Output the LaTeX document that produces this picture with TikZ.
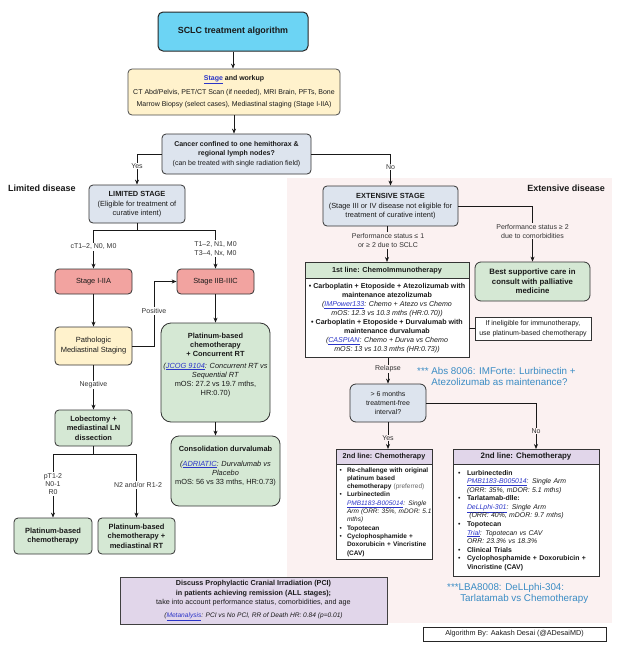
\documentclass[tikz,border=0pt]{standalone}
\usepackage{fontspec}
\setmainfont{Liberation Sans}
\usetikzlibrary{arrows.meta}
\definecolor{cyanf}{HTML}{6CD4F4}
\definecolor{yelf}{HTML}{FFF2CC}
\definecolor{gbf}{HTML}{DDE4EE}
\definecolor{redf}{HTML}{F2A3A0}
\definecolor{grnf}{HTML}{D5E8D4}
\definecolor{purf}{HTML}{E1D6EA}
\definecolor{pinkbg}{HTML}{FBF1F1}
\definecolor{bordc}{HTML}{333333}
\definecolor{linkc}{HTML}{2B35C8}
\definecolor{notec}{HTML}{3A8CC4}
\definecolor{txtc}{HTML}{1A1A1A}
\definecolor{lblc}{HTML}{333333}
\newcommand\myfs[2]{\fontsize{#1}{#2}\selectfont}
\newcommand\lnk[1]{\textcolor{linkc}{\underline{#1}}}
\newcommand\blL{\makebox[10.5pt][l]{\hspace{3pt}\textbullet}}
\newcommand\indL{\hspace*{10.5pt}}
\newcommand\blR{\makebox[13.5pt][l]{\hspace{4.5pt}\textbullet}}
\newcommand\indR{\hspace*{13.5pt}}
\begin{document}
\begin{tikzpicture}[x=1pt,y=-1pt,
  box/.style={draw=bordc, line width=0.8pt, rounded corners=4pt, align=center, inner sep=1pt, text=txtc},
  sq/.style={draw=bordc, line width=0.8pt, align=center, inner sep=1pt, text=txtc},
  arr/.style={-{Stealth[length=5pt,width=4pt]}, line width=0.7pt, draw=black!90},
  ln/.style={line width=0.7pt, draw=black!90},
  lbl/.style={align=center, inner sep=1pt, text=lblc, font=\myfs{7}{9}},
  side/.style={font=\myfs{9}{11}\bfseries, text=txtc, inner sep=0pt},
  note/.style={align=left, text=notec, font=\myfs{9.8}{11}, inner sep=0pt},
]
\useasboundingbox (0,0) rectangle (622,648);
\fill[white] (0,0) rectangle (622,648);
\fill[pinkbg] (287,178) rectangle (612,623);

% ---------- top ----------
\node[box, fill=cyanf, draw=black!85, line width=1pt, rounded corners=5pt, minimum width=150pt, minimum height=39pt, font=\myfs{8.9}{10}\bfseries] (title) at (233,31.5) {SCLC treatment algorithm};
\node[box, fill=yelf, draw=black!70, minimum width=212pt, minimum height=46pt, font=\myfs{7}{12}] (stage) at (234,92) {\textbf{\lnk{Stage} and workup}\\[2pt]CT Abd/Pelvis, PET/CT Scan (if needed), MRI Brain, PFTs, Bone\\Marrow Biopsy (select cases), Mediastinal staging (Stage I-IIA)};
\node[box, fill=gbf, minimum width=149pt, minimum height=40pt, font=\myfs{7}{9}] (cancer) at (236.5,154) {\textbf{Cancer confined to one hemithorax \&}\\\textbf{regional lymph nodes?}\\[1.5pt](can be treated with single radiation field)};

\node[side, anchor=west] (limlab) at (8,188) {Limited disease};
\node[side, anchor=east] (extlab) at (605,188) {Extensive disease};

\node[box, fill=gbf, minimum width=96pt, minimum height=38pt, font=\myfs{7.4}{9}] (limited) at (137,204) {\textbf{LIMITED STAGE}\\[1pt](Eligible for treatment of\\curative intent)};
\node[box, fill=gbf, minimum width=135pt, minimum height=40pt, font=\myfs{7.4}{9}] (extensive) at (390.5,206) {\textbf{EXTENSIVE STAGE}\\[1pt](Stage III or IV disease not eligible for\\treatment of curative intent)};

% ---------- limited branch ----------
\node[box, fill=redf, minimum width=77pt, minimum height=25pt, font=\myfs{7.4}{9}] (s1) at (93.5,281.5) {Stage I-IIA};
\node[box, fill=redf, minimum width=77pt, minimum height=25pt, font=\myfs{7.4}{9}] (s2) at (215.5,281.5) {Stage IIB-IIIC};
\node[box, fill=yelf, minimum width=77pt, minimum height=38pt, font=\myfs{7.5}{10}] (path) at (93.5,346) {Pathologic\\Mediastinal Staging};
\node[box, fill=grnf, rounded corners=10pt, minimum width=109pt, minimum height=99pt, font=\myfs{7.4}{9}] (plat) at (215.5,372.5) {\textbf{Platinum-based}\\\textbf{chemotherapy}\\\textbf{+ Concurrent RT}\\[3pt]\textit{(\lnk{JCOG 9104}: Concurrent RT vs}\\\textit{Sequential RT}\\mOS: 27.2 vs 19.7 mths,\\HR:0.70)\\[8pt]\mbox{}};
\node[box, fill=grnf, minimum width=77pt, minimum height=36pt, font=\myfs{7.5}{9.5}] (lob) at (93.5,428) {\textbf{Lobectomy +}\\\textbf{mediastinal LN}\\\textbf{dissection}};
\node[box, fill=grnf, rounded corners=8pt, minimum width=109pt, minimum height=70pt, font=\myfs{7.4}{9}] (consol) at (225.5,471) {\textbf{Consolidation durvalumab}\\[6pt]\textit{(\lnk{ADRIATIC}: Durvalumab vs}\\\textit{Placebo}\\mOS: 56 vs 33 mths, HR:0.73)\\[3pt]\mbox{}};
\node[box, fill=grnf, minimum width=78pt, minimum height=36pt, font=\myfs{7.5}{9.5}] (plL) at (53,536) {\textbf{Platinum-based}\\\textbf{chemotherapy}};
\node[box, fill=grnf, minimum width=77pt, minimum height=36pt, font=\myfs{7.5}{9.5}] (plR) at (136.5,536) {\textbf{Platinum-based}\\\textbf{chemotherapy +}\\\textbf{mediastinal RT}};

\node[sq, fill=purf, draw=black!75, minimum width=267pt, minimum height=47pt, font=\myfs{7.2}{9.5}] (pci) at (253.5,600.5) {\textbf{Discuss Prophylactic Cranial Irradiation (PCI)}\\\textbf{in patients achieving remission (ALL stages);}\\take into account performance status, comorbidities, and age\\[3pt]{\myfs{6.6}{8}\textit{(\lnk{Metanalysis}: PCI vs No PCI, RR of Death HR: 0.84 (p=0.01)}}};

% ---------- extensive branch ----------
\node[sq, fill=grnf, minimum width=164pt, minimum height=16pt, anchor=north, font=\myfs{7.3}{9}\bfseries] (fh) at (387,262) {1st line: ChemoImmunotherapy};
\node[sq, fill=white, minimum width=164pt, minimum height=79pt, anchor=north, font=\myfs{7.1}{9}] (fb) at (387,278) {\textbf{\textbullet\ Carboplatin + Etoposide + Atezolizumab with}\\\textbf{maintenance atezolizumab}\\\textit{(\lnk{IMPower133}: Chemo + Atezo vs Chemo}\\\textit{mOS: 12.3 vs 10.3 mths (HR:0.70))}\\\textbf{\textbullet\ Carboplatin + Etoposide + Durvalumab with}\\\textbf{maintenance durvalumab}\\\textit{(\lnk{CASPIAN}: Chemo + Durva vs Chemo}\\\textit{mOS: 13 vs 10.3 mths (HR:0.73))}};
\node[box, fill=grnf, rounded corners=6pt, minimum width=115pt, minimum height=39pt, font=\myfs{7.8}{9.7}\bfseries] (best) at (532.5,281.5) {Best supportive care in\\consult with palliative\\medicine};
\node[sq, fill=white, minimum width=116pt, minimum height=23pt, font=\myfs{7}{9.5}] (inelig) at (533,328.5) {If ineligible for immunotherapy,\\use platinum-based chemotherapy};
\node[box, fill=gbf, rounded corners=6pt, minimum width=76pt, minimum height=38pt, font=\myfs{7}{9}] (dec) at (388,403) {> 6 months\\treatment-free\\interval?};

\node[sq, fill=purf, minimum width=96pt, minimum height=15pt, anchor=north, font=\myfs{7.2}{9}\bfseries] (l2h) at (384,449) {2nd line: Chemotherapy};
\node[sq, fill=white, minimum width=96pt, minimum height=95pt, anchor=north, align=left, text width=95pt, inner xsep=0.5pt, font=\myfs{6.5}{8.3}] (l2b) at (384,464) {\blL\textbf{Re-challenge with original}\\\indL\textbf{platinum based}\\\indL\mbox{\textbf{chemotherapy} \textcolor{black!60}{(preferred)}}\\\blL\textbf{Lurbinectedin}\\\indL\mbox{\textit{\lnk{PMB1183-B005014}: Single}}\\\indL\mbox{\textit{Arm (ORR: 35\%, mDOR: 5.1}}\\\indL\textit{mths)}\\\blL\textbf{Topotecan}\\\blL\textbf{Cyclophosphamide +}\\\indL\mbox{\textbf{Doxorubicin + Vincristine}}\\\indL\textbf{(CAV)}};
\node[sq, fill=purf, minimum width=146pt, minimum height=15pt, anchor=north, font=\myfs{7.9}{9}\bfseries] (r2h) at (526,449) {2nd line: Chemotherapy};
\node[sq, fill=white, minimum width=146pt, minimum height=112pt, anchor=north, align=left, text width=145pt, inner xsep=0.5pt, font=\myfs{6.9}{8.55}] (r2b) at (526,464) {\blR\textbf{Lurbinectedin}\\\indR\textit{\lnk{PMB1183-B005014}: Single Arm}\\\indR\textit{(ORR: 35\%, mDOR: 5.1 mths)}\\\blR\textbf{Tarlatamab-dlle:}\\\indR\textit{\lnk{DeLLphi-301}: Single Arm}\\\indR\textit{\ (ORR: 40\%, mDOR: 9.7 mths)}\\\blR\textbf{Topotecan}\\\indR\textit{\lnk{Trial}: Topotecan vs CAV}\\\indR\textit{ORR: 23.3\% vs 18.3\%}\\\blR\textbf{Clinical Trials}\\\blR\mbox{\textbf{Cyclophosphamide + Doxorubicin +}}\\\indR\textbf{Vincristine (CAV)}};

\node[note, anchor=north west] (note1) at (417,367) {*** Abs 8006: IMForte: Lurbinectin +\\\phantom{*** }Atezolizumab as maintenance?};
\node[note, anchor=north west] (note2) at (447,583) {***LBA8008: DeLLphi-304:\\\phantom{***\,}Tarlatamab vs Chemotherapy};

\node[sq, draw=black!85, fill=white, minimum width=183pt, minimum height=14pt, font=\myfs{7.2}{9}] (algo) at (514.5,634) {Algorithm By: Aakash Desai (@ADesaiMD)};

% ---------- connectors ----------
\draw[arr] (title.south) -- (title.south |- stage.north);
\draw[arr] (stage.south) -- (stage.south |- cancer.north);
\draw[arr] (cancer.west) -| (limited.north);
\draw[arr] (cancer.east) -| (extensive.north);
\node[lbl, fill=white] (yes1) at (137,166) {Yes};
\node[lbl, fill=white] (no1) at (390.5,167) {No};

\coordinate (j1) at (137,230);
\draw[ln] (limited.south) -- (j1);
\draw[arr] (j1) -| (s1.north);
\draw[arr] (j1) -| (s2.north);
\node[lbl, fill=white] (ct) at (93.5,247) {cT1–2, N0, M0};
\node[lbl, fill=white] (tt) at (215.5,248.5) {T1–2, N1, M0\\T3–4, Nx, M0};
\draw[arr] (s1.south) -- (path.north);
\coordinate (pk) at (154,346);
\draw[arr] (path.east) -- (pk) |- (s2.west);
\node[lbl, fill=white] (pos) at (154,311) {Positive};
\draw[arr] (s2.south) -- (plat.north);
\draw[arr] (plat.south) -- (plat.south |- consol.north);
\draw[arr] (path.south) -- (lob.north);
\node[lbl, fill=white] (neg) at (93.5,385) {Negative};
\coordinate (j2) at (93.5,454);
\draw[ln] (lob.south) -- (j2);
\draw[arr] (j2) -| (plL.north);
\draw[arr] (j2) -| (plR.north);
\node[lbl, fill=white, font=\myfs{7}{8.2}] (pt) at (53,484) {pT1-2\\N0-1\\R0};
\node[lbl, fill=white] (n2) at (138,485) {N2 and/or R1-2};

\draw[arr] (fh.north |- extensive.south) -- (fh.north);
\node[lbl, fill=pinkbg] (ps1) at (388,240.5) {Performance status ≤ 1\\or ≥ 2 due to SCLC};
\draw[arr] (extensive.east) -| (best.north);
\node[lbl, fill=pinkbg] (ps2) at (532.5,231) {Performance status ≥ 2\\due to comorbidities};
\draw[ln] (fb.east |- inelig.west) -- (inelig.west);
\draw[arr] (dec.north |- fb.south) -- (dec.north);
\node[lbl, fill=pinkbg] (rel) at (388,369) {Relapse};
\draw[arr] (dec.south) -- (dec.south |- l2h.north);
\node[lbl, fill=pinkbg] (yes2) at (388,438) {Yes};
\coordinate (rk) at (536,403);
\draw[arr] (dec.east) -- (rk) -- (rk |- r2h.north);
\node[lbl, fill=pinkbg] (no2) at (536,431) {No};
\end{tikzpicture}
\end{document}
